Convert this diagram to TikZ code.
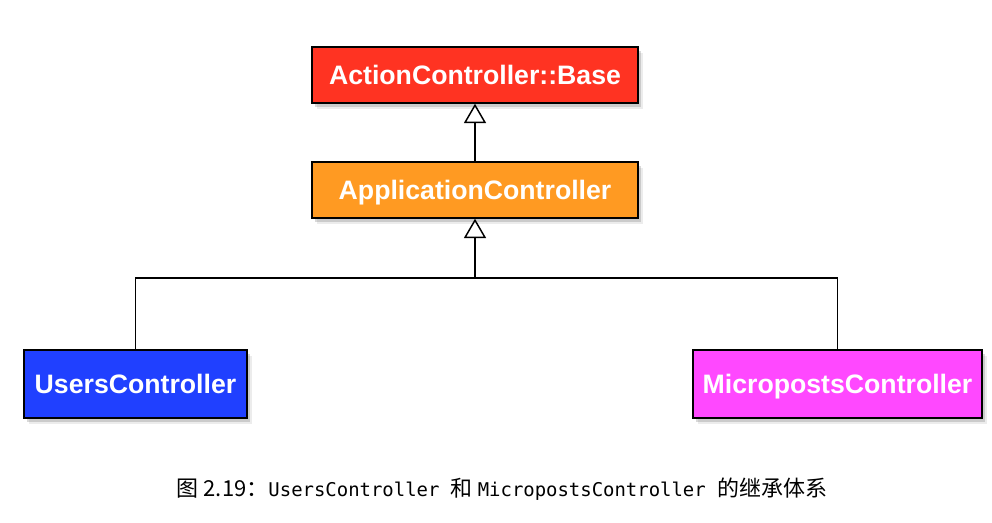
\documentclass[tikz,border=0pt]{standalone}
\usepackage{fontspec}
\setmainfont{Liberation Sans}
\setmonofont{DejaVu Sans Mono}
\newfontfamily\cjk{Noto Sans CJK SC}
\usetikzlibrary{shadows,arrows.meta}
\definecolor{cred}{HTML}{FF3322}
\definecolor{corange}{HTML}{FF9A22}
\definecolor{cblue}{HTML}{2040FF}
\definecolor{cmag}{HTML}{FF48FF}
\newcommand{\capcjk}{\cjk\fontsize{16.5}{19}\selectfont}
\newcommand{\capmono}{\ttfamily\fontsize{14.2}{17}\selectfont}
\tikzset{
  cls/.style={draw=black, line width=1.1pt, text=white, font=\fontsize{20}{24}\selectfont\bfseries,
    inner sep=0pt, text height=14.3pt, text depth=0pt,
    drop shadow={shadow xshift=3.5pt, shadow yshift=-4.5pt, opacity=0.15},
    drop shadow={shadow xshift=2.5pt, shadow yshift=-3pt, opacity=0.3}},
  conn/.style={line width=1.3pt},
  inh/.style={conn, -{Triangle[open, width=16.5pt, length=14.5pt, line width=1.1pt]}}
}
\begin{document}
\begin{tikzpicture}[x=0.75pt,y=-0.75pt]
\useasboundingbox (0,0) rectangle (992,522);
\node[cls, fill=cred, minimum width=326*0.75pt, minimum height=56*0.75pt] (acb) at (475,75) {ActionController::Base};
\node[cls, fill=corange, minimum width=326*0.75pt, minimum height=56*0.75pt] (app) at (475,190) {ApplicationController};
\node[cls, fill=cblue, minimum width=223*0.75pt, minimum height=68*0.75pt] (users) at (135.5,384) {UsersController};
\node[cls, fill=cmag, minimum width=289*0.75pt, minimum height=68*0.75pt] (micro) at (837.5,384) {MicropostsController};
\coordinate (bar) at (475,278);
\draw[inh] (app.north) -- (acb.south);
\draw[conn] (users.north) |- (bar) -| (micro.north);
\draw[inh] (bar) -- (app.south);
\node[anchor=base, inner sep=0pt] (cap) at (502,496) {\capcjk 图 2.19：\capmono UsersController \capcjk 和 \capmono MicropostsController \capcjk 的继承体系};
\end{tikzpicture}
\end{document}
